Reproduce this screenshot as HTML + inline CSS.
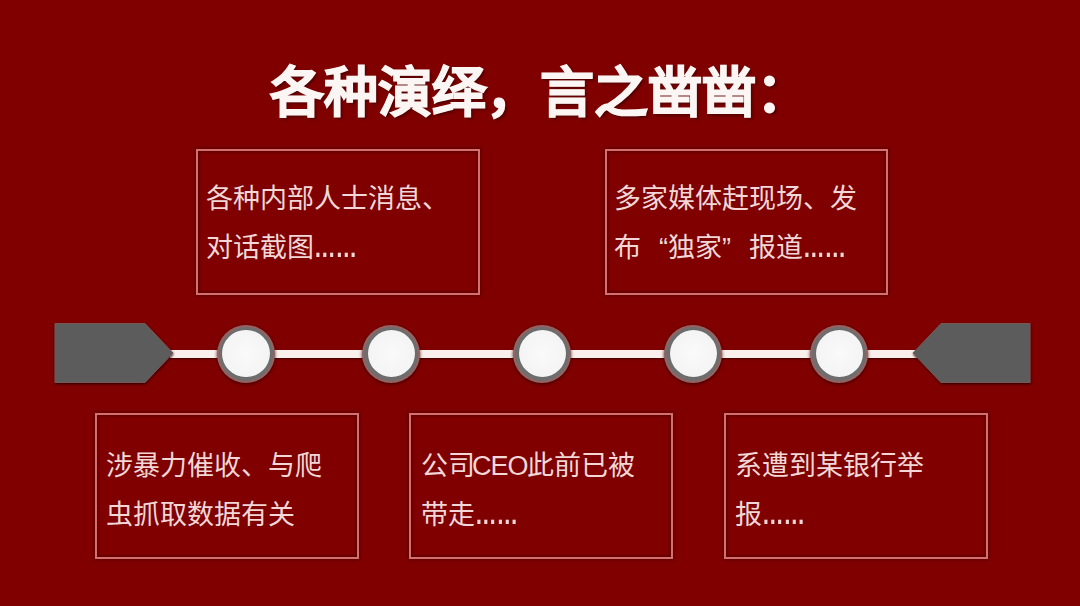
<!DOCTYPE html>
<html lang="zh-CN">
<head>
<meta charset="utf-8">
<style>
html,body{margin:0;padding:0;}
body{width:1080px;height:606px;overflow:hidden;position:relative;background:#800000;font-family:"Liberation Sans",sans-serif;}
.title{position:absolute;left:270px;top:55px;font-size:54px;line-height:76px;font-weight:900;color:#fbf6f4;white-space:nowrap;letter-spacing:0;text-shadow:2px 2px 3px rgba(40,0,0,.6);-webkit-text-stroke:1.1px #fbf6f4;}
.box{position:absolute;box-sizing:border-box;border:2.5px solid #d47070;box-shadow:inset 0 0 3px 1px rgba(50,0,0,.55), 0 0 3px 1px rgba(50,0,0,.45);}
.txt{position:absolute;font-size:27px;line-height:49px;color:#f5d6d6;white-space:nowrap;font-weight:500;text-shadow:0 0 1px rgba(60,0,0,.5);}
.q{display:inline-block;width:27px;}
.ql{text-align:right;}
.qr{text-align:left;}
.el{display:inline-block;font-size:27px;font-weight:700;transform:scaleX(.8);transform-origin:0 50%;}
.ceo{letter-spacing:-1px;margin-left:-3px;margin-right:-1px;}
.line{position:absolute;left:170px;top:350px;width:750px;height:7.5px;background:#f9efec;box-shadow:0 1px 2px rgba(40,0,0,.7);}
.circ{position:absolute;width:54px;height:54px;border-radius:50%;background:#6e6e6e;top:326.7px;box-shadow:0 0 0 2px #966262,0 1px 3px 2.5px rgba(40,0,0,.65);}
.circ::after{content:"";position:absolute;left:3.5px;top:3px;width:47.5px;height:47.5px;border-radius:50%;background:radial-gradient(circle at 50% 50%,#fafafa 0%,#f4f4f4 70%,#ececec 100%);box-shadow:0 0 1px rgba(0,0,0,.3);}
svg{position:absolute;left:0;top:0;}
</style>
</head>
<body>
<div class="title">各种演绎，言之凿凿：</div>

<div class="box" style="left:196px;top:149px;width:283.5px;height:145.5px;"></div>
<div class="box" style="left:605px;top:149px;width:283px;height:145.5px;"></div>
<div class="box" style="left:95px;top:413px;width:264px;height:145.5px;"></div>
<div class="box" style="left:408.5px;top:413px;width:264.5px;height:145.5px;"></div>
<div class="box" style="left:724px;top:413px;width:264px;height:145.5px;"></div>

<div class="txt" style="left:206px;top:175px;">各种内部人士消息、<br>对话截图<span class="el">……</span></div>
<div class="txt" style="left:614px;top:175px;">多家媒体赶现场、发<br>布<span class="q ql">“</span>独家<span class="q qr">”</span>报道<span class="el">……</span></div>
<div class="txt" style="left:106px;top:442px;">涉暴力催收、与爬<br>虫抓取数据有关</div>
<div class="txt" style="left:421px;top:442px;">公司<span class="ceo">CEO</span>此前已被<br>带走<span class="el">……</span></div>
<div class="txt" style="left:735px;top:442px;">系遭到某银行举<br>报<span class="el">……</span></div>

<div class="line"></div>
<svg width="1080" height="606">
<defs><filter id="sh" x="-20%" y="-20%" width="140%" height="140%"><feDropShadow dx="0.3" dy="1.2" stdDeviation="1.3" flood-color="#200000" flood-opacity=".85"/></filter></defs>
<polygon points="55,323.5 145,323.5 173,353 145,382.5 55,382.5" fill="#5b5c5c" stroke="#7c5454" stroke-width="1" filter="url(#sh)"/>
<polygon points="1030,323.5 941,323.5 913,353 941,382.5 1030,382.5" fill="#5b5c5c" stroke="#7c5454" stroke-width="1" filter="url(#sh)"/>
</svg>
<div class="circ" style="left:218.7px;"></div>
<div class="circ" style="left:364px;"></div>
<div class="circ" style="left:515px;"></div>
<div class="circ" style="left:666px;"></div>
<div class="circ" style="left:812px;"></div>
</body>
</html>
